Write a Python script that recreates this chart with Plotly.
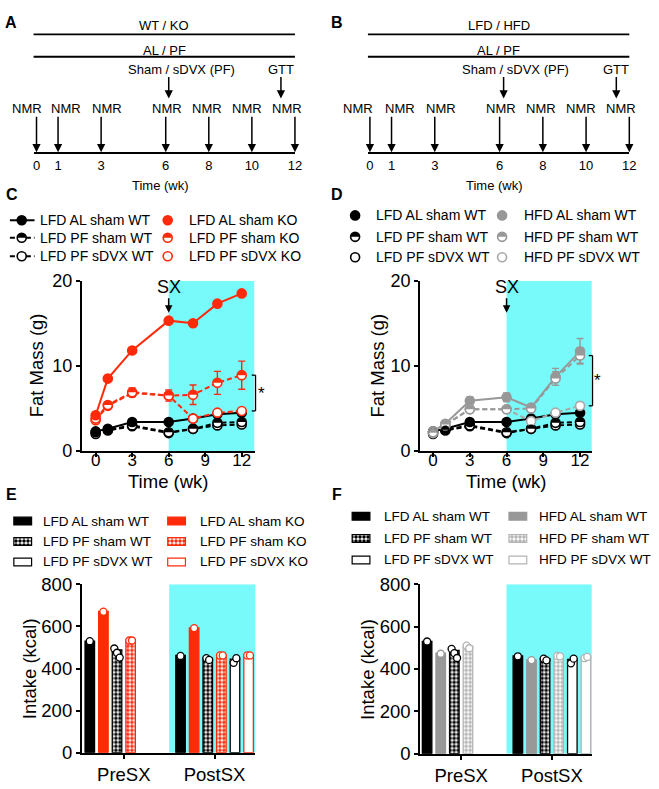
import plotly.graph_objects as go

W, H = 659, 789
FONT = "Arial, 'Liberation Sans', Helvetica, sans-serif"
RED = "#FF2A0A"
GRAY = "#989898"
LGRAY = "#A8A8A8"
CHK_GRAY = "#B4B4B4"
CYAN = "#79FAFA"

# ---------------- data ----------------
schedule_weeks = [0, 1, 3, 6, 8, 10, 12]
surgery_week = 6
gtt_week = 12
time_ticks = [0, 3, 6, 9, 12]
fat_ticks = [0, 10, 20]
intake_ticks = [0, 200, 400, 600, 800]

weeks = [0, 1, 3, 6, 8, 10, 12]
lfd_al_sham_wt = [2.3, 2.6, 3.4, 3.4, 3.8, 4.3, 4.5]
lfd_pf_sham_wt = [2.2, 2.5, 3.0, 2.2, 2.6, 3.3, 3.4]
lfd_pf_sdvx_wt = [2.0, 2.4, 2.9, 2.1, 2.6, 3.0, 3.1]

lfd_al_sham_ko = [4.2, 8.5, 11.8, 15.3, 15.0, 17.3, 18.5]
lfd_pf_sham_ko = [3.8, 5.4, 6.9, 6.5, 6.6, 8.0, 8.9]
lfd_pf_sham_ko_sem = [0.3, 0.3, 0.5, 0.65, 1.15, 1.35, 1.65]
lfd_pf_sdvx_ko = [3.6, 5.3, 6.8, 6.5, 3.8, 4.5, 4.7]
lfd_pf_sdvx_ko_sem = [0.2, 0.2, 0.3, 0.3, 0.2, 0.2, 0.2]

hfd_al_sham_wt = [2.3, 3.2, 5.9, 6.3, 5.1, 8.7, 11.7]
hfd_al_sham_wt_sem = [0.1, 0.2, 0.45, 0.5, 0.3, 1.0, 1.5]
hfd_pf_sham_wt = [2.2, 3.1, 4.9, 4.9, 5.0, 8.5, 11.2]
hfd_pf_sham_wt_sem = [0.1, 0.2, 0.3, 0.3, 0.3, 0.8, 0.9]
hfd_pf_sdvx_wt = [2.1, 3.0, 4.9, 4.9, 3.5, 4.5, 5.3]

intake_periods = ["PreSX", "PostSX"]
intake_lfd_al_sham_wt = [530, 462]
intake_lfd_al_sham_ko = [671, 593]
intake_lfd_pf_sham_wt = [488, 449]
intake_lfd_pf_sham_ko = [535, 463]
intake_lfd_pf_sdvx_wt = [None, 445]
intake_lfd_pf_sdvx_ko = [None, 463]
intake_hfd_al_sham_wt = [475, 443]
intake_hfd_pf_sham_wt = [508, 462]
intake_hfd_pf_sdvx_wt = [None, 455]

pts_lfd_al_sham_wt = [[530], [460]]
pts_lfd_al_sham_ko = [[670], [592]]
pts_lfd_pf_sham_wt = [[495, 475, 452], [449, 441]]
pts_lfd_pf_sham_ko = [[533, 533], [462, 462]]
pts_lfd_pf_sdvx_wt = [[], [427, 449]]
pts_lfd_pf_sdvx_ko = [[], [462, 462]]
pts_hfd_al_sham_wt = [[472], [442]]
pts_hfd_pf_sham_wt = [[510, 498], [462, 460]]
pts_hfd_pf_sdvx_wt = [[], [451, 457]]


# ---------------- helpers ----------------
def pxx(v):
    return v / W


def pyy(v):
    return 1 - v / H


def ids(n):
    s = "" if n == 1 else str(n)
    return "x" + s, "y" + s


fig = go.Figure()
shapes, annos = [], []

HALF_R = 4.3


def half_path(r):
    k = 0.5523 * r
    return (f"M{-r},0 C{-r},{k:.2f} {-k:.2f},{r} 0,{r} "
            f"C{k:.2f},{r} {r},{k:.2f} {r},0 Z")


def half_marks(xref, yref, xs, ys, color, r=HALF_R):
    for xv, yv in zip(xs, ys):
        shapes.append(dict(type="path", xref=xref, yref=yref, xsizemode="pixel",
                           ysizemode="pixel", xanchor=xv, yanchor=yv,
                           path=half_path(r), fillcolor=color,
                           line=dict(width=0), layer="above"))


DASH = "5px,3px"


def line_series(n, ys, color, dash, kind, sem=None):
    xr, yr = ids(n)
    fill = color if kind == "full" else "white"
    fig.add_trace(go.Scatter(
        x=weeks, y=ys, xaxis=xr, yaxis=yr, mode="lines+markers",
        line=dict(color=color, width=2, dash=dash),
        marker=dict(symbol="circle", size=9, color=fill, line=dict(color=color, width=1.6)),
        error_y=dict(type="data", array=sem if sem else [0] * len(ys), visible=sem is not None,
                     color=color, thickness=1.4, width=3.5),
        cliponaxis=False, hoverinfo="skip"))
    if kind == "half":
        half_marks(xr, yr, weeks, ys, color)


SLOT, BW = 0.15, 0.105


def bar_series(n, k, vals, pts, fillc, linec, pattern=None, ptc=None):
    xr, yr = ids(n)
    xs = [g + (k - 2.5) * SLOT for g in range(len(vals))]
    marker = dict(color=fillc, line=dict(color=linec, width=1.3))
    if pattern:
        marker["pattern"] = dict(shape=pattern, fgcolor=linec, bgcolor="white",
                                 size=4, solidity=0.6, fillmode="replace")
    fig.add_trace(go.Bar(x=xs, y=vals, width=BW, xaxis=xr, yaxis=yr,
                         marker=marker, hoverinfo="skip"))
    dx, dy = [], []
    for g, arr in enumerate(pts):
        m = len(arr)
        for i, v in enumerate(arr):
            off = 0 if m == 1 else (i - (m - 1) / 2) * 0.03
            dx.append(xs[g] + off)
            dy.append(v)
    fig.add_trace(go.Scatter(x=dx, y=dy, xaxis=xr, yaxis=yr, mode="markers",
                             marker=dict(size=7, color="white",
                                         line=dict(color=ptc or linec, width=1.3)),
                             cliponaxis=False, hoverinfo="skip"))


# ---------------- axes ----------------
def axis_style(fs):
    return dict(showline=True, linecolor="black", linewidth=2, showgrid=False,
                zeroline=False, ticks="outside", ticklen=4, tickwidth=2,
                tickcolor="black", tickfont=dict(size=fs, family=FONT, color="black"))


layout = dict(width=W, height=H, margin=dict(l=0, r=0, t=0, b=0),
              paper_bgcolor="white", plot_bgcolor="rgba(0,0,0,0)",
              showlegend=False, barmode="overlay",
              font=dict(family=FONT, color="black"))

C_RANGE = [-1.13, 13.05]
D_RANGE = [-1.05, 12.96]
E_RANGE = [-0.462, 1.451]
F_RANGE = [-0.451, 1.44]

layout["xaxis"] = dict(domain=[pxx(81), pxx(256)], range=C_RANGE, anchor="y", tickvals=time_ticks,
                       ticklabelstandoff=-11, **axis_style(17))
layout["yaxis"] = dict(domain=[pyy(452), pyy(277)], range=[0, 20], anchor="x", tickvals=fat_ticks,
                       **axis_style(18))
layout["xaxis2"] = dict(domain=[pxx(424), pxx(598)], range=D_RANGE, anchor="y2", tickvals=time_ticks,
                        ticklabelstandoff=-11, **axis_style(17))
layout["yaxis2"] = dict(domain=[pyy(452), pyy(277)], range=[0, 20], anchor="x2", tickvals=fat_ticks,
                        **axis_style(18))
layout["xaxis3"] = dict(domain=[pxx(81), pxx(257)], range=E_RANGE, anchor="y3", tickvals=[0, 1],
                        ticktext=intake_periods, ticklabelstandoff=0, **axis_style(18.5))
layout["yaxis3"] = dict(domain=[pyy(762), pyy(589)], range=[0, 800], anchor="x3", tickvals=intake_ticks,
                        **axis_style(18.5))
layout["xaxis4"] = dict(domain=[pxx(424), pxx(598)], range=F_RANGE, anchor="y4", tickvals=[0, 1],
                        ticktext=intake_periods, ticklabelstandoff=0, **axis_style(18.5))
layout["yaxis4"] = dict(domain=[pyy(763), pyy(589)], range=[0, 800], anchor="x4", tickvals=intake_ticks,
                        **axis_style(18.5))

sched_axis = dict(showline=True, linewidth=1.8, linecolor="black", ticks="", tickvals=schedule_weeks,
                  tickfont=dict(size=13, family=FONT, color="black"), showgrid=False, zeroline=False)
layout["xaxis5"] = dict(domain=[pxx(32), pxx(297)], range=[-0.137, 12], anchor="y5", **sched_axis)
layout["yaxis5"] = dict(domain=[pyy(145), 1], range=[145, 0], anchor="x5", visible=False)
layout["xaxis6"] = dict(domain=[pxx(371), pxx(636)], range=[-0.092, 12], anchor="y6", **sched_axis)
layout["yaxis6"] = dict(domain=[pyy(145), 1], range=[145, 0], anchor="x6", visible=False)
layout["xaxis7"] = dict(domain=[0, 1], range=[0, W], anchor="y7", visible=False)
layout["yaxis7"] = dict(domain=[0, 1], range=[H, 0], anchor="x7", visible=False)


def text(**kw):
    base = dict(showarrow=False, xanchor="center", yanchor="middle")
    base.update(kw)
    annos.append(base)


# ---------------- schematic A / B ----------------
def arrow(xr, yr, x, y, length, xshift=0):
    return dict(xref=xr, yref=yr, x=x, y=y, ax=0, ay=-length, text="", showarrow=True,
                arrowhead=2, arrowsize=1.1, arrowwidth=1.5, arrowcolor="black",
                standoff=0, xshift=xshift)


def schematic(n, top_label, nmr_shift, sham_text_shift, sham_arrow_shift, gtt_shift, title_x):
    xr, yr = ids(n)
    for yline, ytxt, txt in [(24, 15, top_label), (47, 41, "AL / PF")]:
        shapes.append(dict(type="line", xref=xr + " domain", yref=yr, x0=0, x1=1, y0=yline, y1=yline,
                           line=dict(color="black", width=1.8)))
        text(xref=xr + " domain", yref=yr, x=0.5, y=ytxt, text=txt, font=dict(size=13))
    for w, sh in zip(schedule_weeks, nmr_shift):
        annos.append(arrow(xr, yr, w, 145, 37))
        text(xref=xr, yref=yr, x=w, y=100, xshift=sh, text="NMR", font=dict(size=13))
    annos.append(arrow(xr, yr, surgery_week, 90, 23, sham_arrow_shift))
    text(xref=xr, yref=yr, x=surgery_week, y=60, xshift=sham_text_shift,
         text="Sham / sDVX (PF)", font=dict(size=13))
    annos.append(arrow(xr, yr, gtt_week, 90, 23, gtt_shift))
    text(xref=xr, yref=yr, x=gtt_week, y=60, xshift=gtt_shift, text="GTT", font=dict(size=13))
    text(xref="paper", yref="paper", x=pxx(title_x), y=pyy(179), text="Time (wk)", font=dict(size=13))


schematic(5, "WT / KO", [-10, 8, 6, 1, -2, -5, -8], 16, 3, -14, 161)
schematic(6, "LFD / HFD", [-12, 8, 6, 1, -2, -5, -8], 16, 4, -13, 499)

# ---------------- panel C ----------------
shapes.append(dict(type="rect", xref="x", yref="y", x0=surgery_week, x1=C_RANGE[1], y0=0, y1=20,
                   fillcolor=CYAN, line=dict(width=0), layer="below"))
line_series(1, lfd_pf_sdvx_wt, "black", DASH, "open")
line_series(1, lfd_pf_sham_wt, "black", DASH, "half")
line_series(1, lfd_al_sham_wt, "black", "solid", "full")
line_series(1, lfd_pf_sdvx_ko, RED, DASH, "open", lfd_pf_sdvx_ko_sem)
line_series(1, lfd_pf_sham_ko, RED, DASH, "half", lfd_pf_sham_ko_sem)
line_series(1, lfd_al_sham_ko, RED, "solid", "full")

# ---------------- panel D ----------------
shapes.append(dict(type="rect", xref="x2", yref="y2", x0=surgery_week, x1=D_RANGE[1], y0=0, y1=20,
                   fillcolor=CYAN, line=dict(width=0), layer="below"))
line_series(2, lfd_pf_sdvx_wt, "black", DASH, "open")
line_series(2, lfd_pf_sham_wt, "black", DASH, "half")
line_series(2, lfd_al_sham_wt, "black", "solid", "full")
line_series(2, hfd_pf_sdvx_wt, LGRAY, DASH, "open")
line_series(2, hfd_al_sham_wt, GRAY, "solid", "full", hfd_al_sham_wt_sem)
line_series(2, hfd_pf_sham_wt, GRAY, DASH, "half", hfd_pf_sham_wt_sem)


def bracket(n, y_hi, y_lo, xpos, star_x):
    xr, yr = ids(n)
    a, b = y_hi / 20, y_lo / 20
    for x0, x1, y0, y1 in [(xpos, xpos, a, b), (xpos - 0.022, xpos, a, a), (xpos - 0.022, xpos, b, b)]:
        shapes.append(dict(type="line", xref=xr + " domain", yref=yr + " domain", x0=x0, x1=x1,
                           y0=y0, y1=y1, line=dict(color="black", width=1.3)))
    text(xref=xr + " domain", yref=yr + " domain", x=star_x, y=(a + b) / 2, text="*",
         font=dict(size=17))


bracket(1, lfd_pf_sham_ko[-1], lfd_pf_sdvx_ko[-1], 1.006, 1.04)
bracket(2, hfd_pf_sham_wt[-1], hfd_pf_sdvx_wt[-1], 1.004, 1.035)

for n in (1, 2):
    xr, yr = ids(n)
    annos.append(dict(xref=xr, yref=yr + " domain", x=surgery_week, y=(452 - 310) / 175, ax=0, ay=-26,
                      text="SX", showarrow=True, arrowhead=2, arrowsize=1.0, arrowwidth=1.5,
                      arrowcolor="black", standoff=0, font=dict(size=18)))
    text(xref=xr + " domain", yref="paper", x=0.5, y=pyy(483), text="Time (wk)", font=dict(size=18.5),
         borderpad=0)

text(xref="paper", yref="y domain", x=pxx(35), y=0.5, text="Fat Mass (g)", textangle=-90,
     font=dict(size=18.5))
text(xref="paper", yref="y2 domain", x=pxx(381), y=0.5, text="Fat Mass (g)", textangle=-90,
     font=dict(size=18.5))

# ---------------- panel E ----------------
shapes.append(dict(type="rect", xref="x3", yref="y3", x0=0.5, x1=E_RANGE[1], y0=0, y1=800,
                   fillcolor=CYAN, line=dict(width=0), layer="below"))
bar_series(3, 0, intake_lfd_al_sham_wt, pts_lfd_al_sham_wt, "black", "black")
bar_series(3, 1, intake_lfd_al_sham_ko, pts_lfd_al_sham_ko, RED, RED)
bar_series(3, 2, intake_lfd_pf_sham_wt, pts_lfd_pf_sham_wt, "white", "black", ".")
bar_series(3, 3, intake_lfd_pf_sham_ko, pts_lfd_pf_sham_ko, "white", RED, ".")
bar_series(3, 4, intake_lfd_pf_sdvx_wt, pts_lfd_pf_sdvx_wt, "white", "black")
bar_series(3, 5, intake_lfd_pf_sdvx_ko, pts_lfd_pf_sdvx_ko, "white", RED)

# ---------------- panel F ----------------
shapes.append(dict(type="rect", xref="x4", yref="y4", x0=0.5, x1=F_RANGE[1], y0=0, y1=800,
                   fillcolor=CYAN, line=dict(width=0), layer="below"))
bar_series(4, 0, intake_lfd_al_sham_wt, pts_lfd_al_sham_wt, "black", "black")
bar_series(4, 1, intake_hfd_al_sham_wt, pts_hfd_al_sham_wt, GRAY, GRAY)
bar_series(4, 2, intake_lfd_pf_sham_wt, pts_lfd_pf_sham_wt, "white", "black", ".")
bar_series(4, 3, intake_hfd_pf_sham_wt, pts_hfd_pf_sham_wt, "white", CHK_GRAY, ".")
bar_series(4, 4, intake_lfd_pf_sdvx_wt, pts_lfd_pf_sdvx_wt, "white", "black")
bar_series(4, 5, intake_hfd_pf_sdvx_wt, pts_hfd_pf_sdvx_wt, "white", CHK_GRAY)

text(xref="paper", yref="y3 domain", x=pxx(28), y=0.5, text="Intake (kcal)", textangle=-90,
     font=dict(size=18.5))
text(xref="paper", yref="y4 domain", x=pxx(370), y=0.5, text="Intake (kcal)", textangle=-90,
     font=dict(size=18.5))


# ---------------- legends (overlay pixel axis) ----------------
def legend_text(x, y, txt, size=14):
    text(xref="x7", yref="y7", x=x, y=y, text=txt, xanchor="left", font=dict(size=size))


def legend_marker(x, y, color, kind, line_seg=None, dash="solid"):
    if line_seg:
        fig.add_trace(go.Scatter(x=list(line_seg), y=[y, y], xaxis="x7", yaxis="y7", mode="lines",
                                 line=dict(color=color, width=2, dash=dash), hoverinfo="skip"))
    fig.add_trace(go.Scatter(x=[x], y=[y], xaxis="x7", yaxis="y7", mode="markers",
                             marker=dict(size=9, color=color if kind == "full" else "white",
                                         line=dict(color=color, width=1.6)), hoverinfo="skip"))
    if kind == "half":
        half_marks("x7", "y7", [x], [y], color)


c_rows = [215, 233, 252]
c_wt = [("LFD AL sham WT", "full", "solid"), ("LFD PF sham WT", "half", DASH), ("LFD PF sDVX WT", "open", DASH)]
c_ko = [("LFD AL sham KO", "full"), ("LFD PF sham KO", "half"), ("LFD PF sDVX KO", "open")]
for ry, (t, kind, dsh) in zip(c_rows, c_wt):
    legend_marker(20, ry, "black", kind, (8, 33), dsh)
    legend_text(37, ry, t)
for ry, (t, kind) in zip(c_rows, c_ko):
    legend_marker(168, ry, RED, kind)
    legend_text(188, ry, t)

d_rows = [210, 232, 253]
d_lfd = [("LFD AL sham WT", "full", "black"), ("LFD PF sham WT", "half", "black"), ("LFD PF sDVX WT", "open", "black")]
d_hfd = [("HFD AL sham WT", "full", GRAY), ("HFD PF sham WT", "half", GRAY), ("HFD PF sDVX WT", "open", LGRAY)]
for ry, (t, kind, col) in zip(d_rows, d_lfd):
    legend_marker(358, ry, col, kind)
    legend_text(377, ry, t)
for ry, (t, kind, col) in zip(d_rows, d_hfd):
    legend_marker(507, ry, col, kind)
    legend_text(527, ry, t)


def swatch(x0, y, fillc, linec, pattern=None):
    marker = dict(color=fillc, line=dict(color=linec, width=1.2))
    if pattern:
        marker["pattern"] = dict(shape=pattern, fgcolor=linec, bgcolor="white", size=4,
                                 solidity=0.6, fillmode="replace")
    fig.add_trace(go.Bar(orientation="h", y=[y], x=[18], base=[x0], width=[8], xaxis="x7", yaxis="y7",
                         marker=marker, hoverinfo="skip"))


e_rows = [524, 545, 566]
e_left = [("LFD AL sham WT", "black", "black", None), ("LFD PF sham WT", "white", "black", "."),
          ("LFD PF sDVX WT", "white", "black", None)]
e_right = [("LFD AL sham KO", RED, RED, None), ("LFD PF sham KO", "white", RED, "."),
           ("LFD PF sDVX KO", "white", RED, None)]
for ry, (t, fc, lc, pat) in zip(e_rows, e_left):
    swatch(12, ry, fc, lc, pat)
    legend_text(40, ry, t, 13.5)
for ry, (t, fc, lc, pat) in zip(e_rows, e_right):
    swatch(168, ry, fc, lc, pat)
    legend_text(199, ry, t, 13.5)

f_rows = [519, 542, 564]
f_left = [("LFD AL sham WT", "black", "black", None), ("LFD PF sham WT", "white", "black", "."),
          ("LFD PF sDVX WT", "white", "black", None)]
f_right = [("HFD AL sham WT", GRAY, GRAY, None), ("HFD PF sham WT", "white", CHK_GRAY, "."),
           ("HFD PF sDVX WT", "white", CHK_GRAY, None)]
for ry, (t, fc, lc, pat) in zip(f_rows, f_left):
    swatch(355, ry, fc, lc, pat)
    legend_text(385, ry, t, 13.5)
for ry, (t, fc, lc, pat) in zip(f_rows, f_right):
    swatch(514, ry, fc, lc, pat)
    legend_text(542, ry, t, 13.5)

# panel letters
for letter, lx, ly in [("A", 9, 12), ("B", 340, 12), ("C", 10, 188), ("D", 340, 188),
                       ("E", 10, 497), ("F", 340, 497)]:
    text(xref="x7", yref="y7", x=lx, y=ly, text=f"<b>{letter}</b>", font=dict(size=16))

layout["shapes"] = shapes
layout["annotations"] = annos
fig.update_layout(**layout)
fig.write_html("out.html", config={"displayModeBar": False, "staticPlot": True},
               post_script="document.body.style.margin='0px';document.body.style.overflow='hidden';")
